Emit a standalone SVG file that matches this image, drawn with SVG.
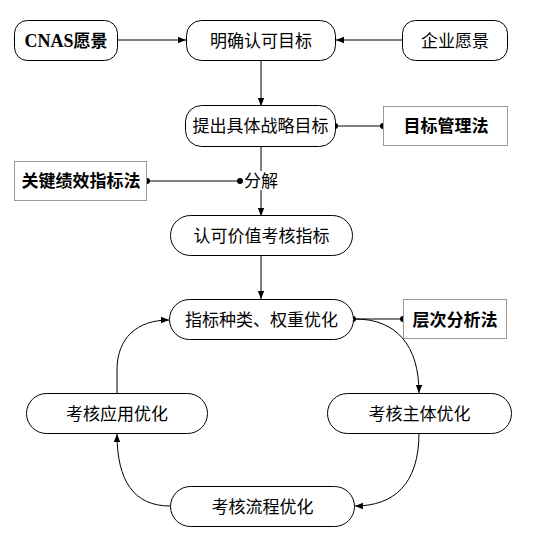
<svg xmlns="http://www.w3.org/2000/svg" width="538" height="558" viewBox="0 0 538 558">
<style>
.node{fill:#fff;stroke:#000;stroke-width:1}
.method{fill:#fff;stroke:#999;stroke-width:1}
.t{font-family:"Noto Sans CJK SC","Liberation Sans",sans-serif;font-size:17px;fill:#000;text-anchor:middle}
.b{font-weight:bold}
.c{fill:none;stroke:#000;stroke-width:1}
.dot{fill:#000}
</style>
<defs>
<marker id="arr" viewBox="0 0 10 10" refX="10" refY="5" markerWidth="8" markerHeight="8" markerUnits="userSpaceOnUse" orient="auto">
<path d="M0,1 L10,5 L0,9 Z" fill="#000"/>
</marker>
</defs>
<rect width="538" height="558" fill="#fff"/>
<g id="connectors">
<line class="c" x1="118" y1="40" x2="186" y2="40" marker-end="url(#arr)"/>
<line class="c" x1="402" y1="40" x2="336" y2="40" marker-end="url(#arr)"/>
<line class="c" x1="261" y1="60" x2="261" y2="106" marker-end="url(#arr)"/>
<line class="c" x1="335" y1="126" x2="383" y2="126"/>
<circle class="dot" cx="335" cy="126" r="3"/>
<circle class="dot" cx="383" cy="126" r="3"/>
<line class="c" x1="261" y1="147" x2="261" y2="216" marker-end="url(#arr)"/>
<line class="c" x1="147" y1="181" x2="240" y2="181"/>
<circle class="dot" cx="147" cy="181" r="3"/>
<circle class="dot" cx="240" cy="181" r="3"/>
<line class="c" x1="261" y1="256" x2="261" y2="299" marker-end="url(#arr)"/>
<line class="c" x1="353" y1="319" x2="403" y2="319"/>
<circle class="dot" cx="353" cy="319" r="3"/>
<circle class="dot" cx="403" cy="319" r="3"/>
<path class="c" d="M355,319 C396,319 419,345 419,393" marker-end="url(#arr)"/>
<path class="c" d="M419,433 C419,484 394,506 355,506" marker-end="url(#arr)"/>
<path class="c" d="M170,506 C134,506 117,481 117,434" marker-end="url(#arr)"/>
<path class="c" d="M117,393 L117,370 C117,338 137,320 169,320" marker-end="url(#arr)"/>
</g>
<g id="cnas"><rect class="node" x="14.5" y="20.5" width="103" height="40" rx="13"/><text class="t b" x="66" y="46.5"><tspan font-family="Liberation Serif" font-size="18">CNAS</tspan>愿景</text></g>
<g id="mingque"><rect class="node" x="186.5" y="20.5" width="149" height="40" rx="15"/><text class="t" x="261" y="46.5">明确认可目标</text></g>
<g id="qiye"><rect class="node" x="402.5" y="20.5" width="105" height="40" rx="13"/><text class="t" x="455" y="46.5">企业愿景</text></g>
<g id="tichu"><rect class="node" x="185.5" y="105.5" width="150" height="41" rx="16"/><text class="t" x="260.5" y="132">提出具体战略目标</text></g>
<g id="mubiao"><rect class="method" x="383.5" y="106.5" width="124" height="39"/><text class="t b" x="446" y="132">目标管理法</text></g>
<g id="guanjian"><rect class="method" x="14.5" y="161.5" width="132" height="39"/><text class="t b" x="81" y="187">关键绩效指标法</text></g>
<g id="fenjie"><rect x="244" y="171" width="34" height="19" fill="#fff"/><text class="t" x="261" y="187">分解</text></g>
<g id="renke"><rect class="node" x="170.5" y="215.5" width="182" height="40" rx="20"/><text class="t" x="261.5" y="241.5">认可价值考核指标</text></g>
<g id="zhibiao"><rect class="node" x="169.5" y="299.5" width="184" height="40" rx="20"/><text class="t" x="261.5" y="325.5">指标种类、权重优化</text></g>
<g id="cengci"><rect class="method" x="403.5" y="299.5" width="103" height="39"/><text class="t b" x="455" y="325.5">层次分析法</text></g>
<g id="yingyong"><rect class="node" x="26.5" y="393.5" width="181" height="40" rx="20"/><text class="t" x="117" y="419.5">考核应用优化</text></g>
<g id="zhuti"><rect class="node" x="327.5" y="393.5" width="184" height="40" rx="20"/><text class="t" x="419.5" y="419.5">考核主体优化</text></g>
<g id="liucheng"><rect class="node" x="170.5" y="486.5" width="184" height="40" rx="20"/><text class="t" x="262.5" y="512.5">考核流程优化</text></g>
</svg>
